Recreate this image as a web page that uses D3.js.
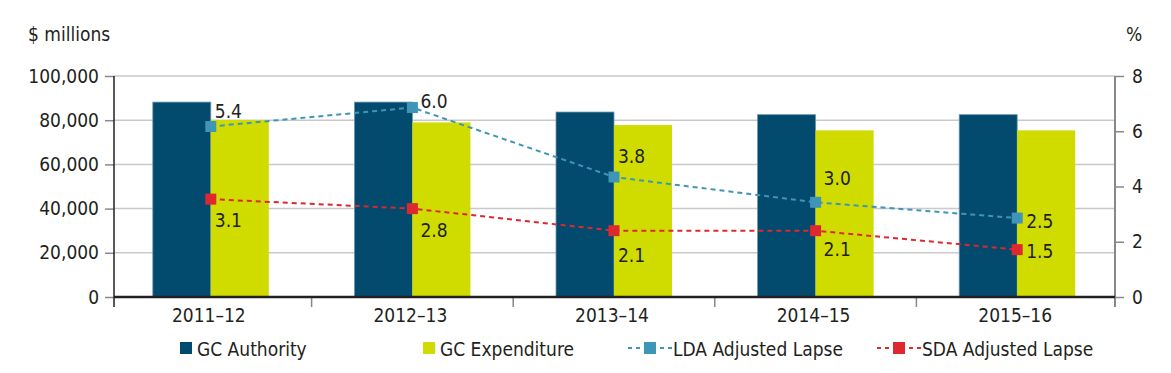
<!DOCTYPE html>
<html>
<head>
<meta charset="utf-8">
<script src="https://cdn.jsdelivr.net/npm/d3@7"></script>
<style>
  body { margin: 0; background: #fff; }
  text { font-family: "Liberation Sans Narrow", "DejaVu Sans Condensed", "DejaVu Sans", sans-serif; font-stretch: condensed; fill: #231f20; }
</style>
</head>
<body>
<div id="chart"></div>
<script>
// chart values
var years = ["2011–12", "2012–13", "2013–14", "2014–15", "2015–16"];
var gcAuthority = [88200, 88200, 83700, 82500, 82500];
var gcExpenditure = [80100, 79000, 77800, 75400, 75400];
var ldaLapse = [5.4, 6.0, 3.8, 3.0, 2.5];
var sdaLapse = [3.1, 2.8, 2.1, 2.1, 1.5];
var leftTicks = [0, 20000, 40000, 60000, 80000, 100000];
var rightTicks = [0, 2, 4, 6, 8];

// label nudges (px) so the numbers sit where the original put them
var labelDx = [4, 8, 4, 8, 9];
var ldaDy = [-9, 0, -14, -17, 10];
var sdaDy = [28, 28, 31, 25, 8];

var W = 1171, H = 373;
var plotTop = 76, base = 297, left = 114, right = 1115;
var fs = "19px";

var svg = d3.select("#chart").append("svg").attr("width", W).attr("height", H);

var x = d3.scaleBand().domain(years).range([110, 1118]);
var yL = d3.scaleLinear().domain([0, 100000]).range([base, plotTop]);
var yR = d3.scaleLinear().domain([0, 8]).range([base, plotTop]);
// the lapse lines in the source are drawn against a 0-7 span
var yLine = d3.scaleLinear().domain([0, 7]).range([base, plotTop]);

var barW = 58;
var cx = function (i) { return x(years[i]) + x.bandwidth() / 2; };

// gridlines
svg.append("g").selectAll("line")
  .data(leftTicks.filter(function (d) { return d > 0; }))
  .enter().append("line")
  .attr("x1", left).attr("x2", right)
  .attr("y1", function (d) { return yL(d); }).attr("y2", function (d) { return yL(d); })
  .attr("stroke", "#c9c9c9").attr("stroke-width", 1.5);

// bars
svg.append("g").selectAll("rect")
  .data(gcAuthority)
  .enter().append("rect")
  .attr("x", function (d, i) { return cx(i) - barW; })
  .attr("y", function (d) { return yL(d); })
  .attr("width", barW)
  .attr("height", function (d) { return base - yL(d); })
  .attr("fill", "#024b6e").attr("stroke", "#6e97ad").attr("stroke-width", 0.8);

svg.append("g").selectAll("rect")
  .data(gcExpenditure)
  .enter().append("rect")
  .attr("x", function (d, i) { return cx(i); })
  .attr("y", function (d) { return yL(d); })
  .attr("width", barW)
  .attr("height", function (d) { return base - yL(d); })
  .attr("fill", "#d0dc00");

// left axis
var gl = svg.append("g").attr("transform", "translate(" + left + ",0)")
  .call(d3.axisLeft(yL).tickValues(leftTicks).tickFormat(d3.format(",")).tickSize(9).tickPadding(6));
gl.attr("font-family", null).attr("font-size", null);
gl.select(".domain").remove();
gl.selectAll(".tick line").attr("stroke", "#888").attr("stroke-width", 1.5);
gl.selectAll("text").style("font-size", fs).attr("fill", "#231f20");
svg.append("line").attr("x1", left).attr("x2", left).attr("y1", plotTop).attr("y2", 307)
  .attr("stroke", "#231f20").attr("stroke-width", 1.5);

// right axis
var gr = svg.append("g").attr("transform", "translate(" + right + ",0)")
  .call(d3.axisRight(yR).tickValues(rightTicks).tickSize(9).tickPadding(8));
gr.attr("font-family", null).attr("font-size", null);
gr.select(".domain").remove();
gr.selectAll(".tick line").attr("stroke", "#888").attr("stroke-width", 1.5);
gr.selectAll("text").style("font-size", fs).attr("fill", "#231f20");
svg.append("line").attr("x1", right).attr("x2", right).attr("y1", plotTop).attr("y2", 307)
  .attr("stroke", "#888").attr("stroke-width", 2);

// x axis
svg.append("g").selectAll("line")
  .data(years.slice(1))
  .enter().append("line")
  .attr("x1", function (d) { return x(d); }).attr("x2", function (d) { return x(d); })
  .attr("y1", base).attr("y2", 307)
  .attr("stroke", "#888").attr("stroke-width", 1.5);
svg.append("line").attr("x1", left).attr("x2", right).attr("y1", base).attr("y2", base)
  .attr("stroke", "#231f20").attr("stroke-width", 2.5);
svg.append("g").selectAll("text")
  .data(years)
  .enter().append("text")
  .attr("x", function (d, i) { return cx(i) - 2; })
  .attr("y", 322)
  .attr("text-anchor", "middle")
  .style("font-size", fs)
  .text(function (d) { return d; });

// axis titles
svg.append("text").attr("x", 28).attr("y", 41).style("font-size", fs).text("$ millions");
svg.append("text").attr("x", 1126).attr("y", 41).style("font-size", fs).text("%");

// lapse lines
function drawLine(vals, color, dys) {
  var line = d3.line()
    .x(function (d, i) { return cx(i); })
    .y(function (d) { return yLine(d); });
  svg.append("path").datum(vals)
    .attr("d", line)
    .attr("fill", "none").attr("stroke", color)
    .attr("stroke-width", 2).attr("stroke-dasharray", "5,4");
  svg.append("g").selectAll("rect")
    .data(vals)
    .enter().append("rect")
    .attr("x", function (d, i) { return cx(i) - 5.5; })
    .attr("y", function (d) { return yLine(d) - 5.5; })
    .attr("width", 11).attr("height", 11)
    .attr("fill", color);
  svg.append("g").selectAll("text")
    .data(vals)
    .enter().append("text")
    .attr("x", function (d, i) { return cx(i) + labelDx[i]; })
    .attr("y", function (d, i) { return yLine(d) + dys[i]; })
    .style("font-size", fs)
    .text(function (d) { return d.toFixed(1); });
}
drawLine(ldaLapse, "#3f95b8", ldaDy);
drawLine(sdaLapse, "#dc282e", sdaDy);

// legend
var lg = svg.append("g");
var sqY = 342;
lg.append("rect").attr("x", 180).attr("y", sqY).attr("width", 12).attr("height", 12).attr("fill", "#024b6e");
lg.append("text").attr("x", 197).attr("y", 356).style("font-size", fs).text("GC Authority");
lg.append("rect").attr("x", 423).attr("y", sqY).attr("width", 12).attr("height", 12).attr("fill", "#d0dc00");
lg.append("text").attr("x", 440).attr("y", 356).style("font-size", fs).text("GC Expenditure");

function legendLine(x0, color, label) {
  lg.append("line").attr("x1", x0).attr("x2", x0 + 44).attr("y1", 348).attr("y2", 348)
    .attr("stroke", color).attr("stroke-width", 2).attr("stroke-dasharray", "4,4");
  lg.append("rect").attr("x", x0 + 16).attr("y", sqY).attr("width", 12).attr("height", 12).attr("fill", color);
  lg.append("text").attr("x", x0 + 45).attr("y", 356).style("font-size", fs).text(label);
}
legendLine(628, "#3f95b8", "LDA Adjusted Lapse");
legendLine(877, "#dc282e", "SDA Adjusted Lapse");
</script>
</body>
</html>
